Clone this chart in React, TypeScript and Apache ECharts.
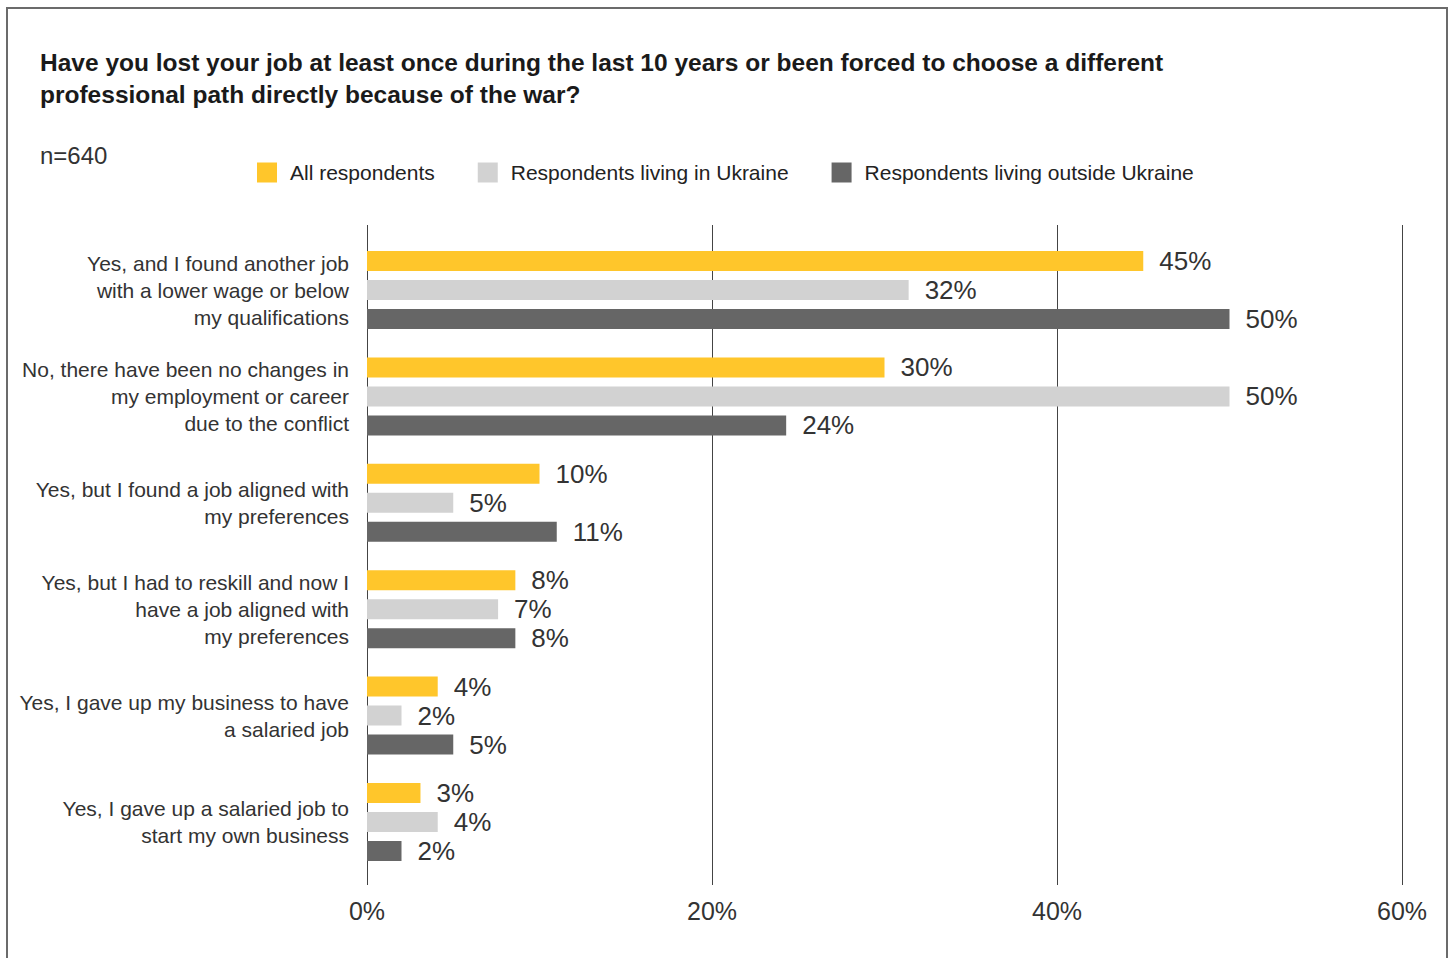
import React, { useEffect, useRef } from "react";
import * as echarts from "echarts";

const categories = [
  "Yes, and I found another job\nwith a lower wage or below\nmy qualifications",
  "No, there have been no changes in\nmy employment or career\ndue to the conflict",
  "Yes, but I found a job aligned with\nmy preferences",
  "Yes, but I had to reskill and now I\nhave a job aligned with\nmy preferences",
  "Yes, I gave up my business to have\na salaried job",
  "Yes, I gave up a salaried job to\nstart my own business",
];

const seriesNames = [
  "All respondents",
  "Respondents living in Ukraine",
  "Respondents living outside Ukraine",
];

const allValues = [45.0, 30.0, 10.0, 8.6, 4.1, 3.1];
const ukraineValues = [31.4, 50.0, 5.0, 7.6, 2.0, 4.1];
const outsideValues = [50.0, 24.3, 11.0, 8.6, 5.0, 2.0];

const allLabels = ["45%", "30%", "10%", "8%", "4%", "3%"];
const ukraineLabels = ["32%", "50%", "5%", "7%", "2%", "4%"];
const outsideLabels = ["50%", "24%", "11%", "8%", "5%", "2%"];

const xTicks = [0, 20, 40, 60];

const colors = ["#FFC62B", "#D2D2D2", "#666666"];

const FONT = "'Liberation Sans', Arial, Helvetica, sans-serif";

export default function App() {
  const ref = useRef<HTMLDivElement>(null);

  useEffect(() => {
    if (!ref.current) return;
    const chart = echarts.init(ref.current, undefined, { renderer: "svg" });

    const valueSets = [allValues, ukraineValues, outsideValues];
    const labelSets = [allLabels, ukraineLabels, outsideLabels];

    const option: any = {
      animation: false,
      backgroundColor: "#ffffff",
      textStyle: { fontFamily: FONT },
      title: {
        text:
          "Have you lost your job at least once during the last 10 years or been forced to choose a different\nprofessional path directly because of the war?",
        left: 40,
        top: 46,
        padding: 0,
        textStyle: {
          fontFamily: FONT,
          fontWeight: "bold",
          fontSize: 24.5,
          lineHeight: 32,
          color: "#1a1a1a",
        },
      },
      legend: {
        data: seriesNames,
        left: 257,
        top: 162,
        padding: 0,
        itemWidth: 20,
        itemHeight: 20,
        itemGap: 43,
        icon: "rect",
        textStyle: {
          fontFamily: FONT,
          fontSize: 21,
          color: "#222",
          padding: [0, 0, 0, 8],
        },
      },
      graphic: [
        {
          type: "rect",
          shape: { x: 7, y: 8, width: 1440, height: 1000 },
          style: { fill: "none", stroke: "#6b6b6b", lineWidth: 2 },
          silent: true,
        },
        {
          type: "text",
          x: 40,
          y: 155,
          style: {
            text: "n=640",
            fontFamily: FONT,
            fontSize: 24,
            fill: "#333",
            verticalAlign: "middle",
          },
        },
      ],
      grid: [
        { left: 367, right: 48, top: 236.8, height: 638.4 },
        { left: 367, right: 48, top: 225, height: 660 },
      ],
      xAxis: [
        {
          gridIndex: 0,
          type: "value",
          min: 0,
          max: 60,
          show: false,
        },
        {
          gridIndex: 1,
          type: "value",
          min: 0,
          max: 60,
          interval: 20,
          axisLine: { show: false },
          axisTick: { show: false },
          splitLine: { show: true, lineStyle: { color: "#444", width: 1 } },
          axisLabel: {
            margin: 13,
            fontFamily: FONT,
            fontSize: 25,
            color: "#333",
            formatter: (v: number) => (xTicks.includes(v) ? v + "%" : ""),
          },
        },
      ],
      yAxis: [
        {
          gridIndex: 0,
          type: "category",
          data: categories,
          inverse: true,
          axisLine: { show: false },
          axisTick: { show: false },
          axisLabel: {
            margin: 18,
            fontFamily: FONT,
            fontSize: 21,
            lineHeight: 27,
            color: "#333",
            align: "right",
            backgroundColor: "rgba(255,255,255,0)",
            padding: [0, 0, 6, 0],
          },
        },
        {
          gridIndex: 1,
          type: "value",
          min: 0,
          max: 1,
          show: false,
        },
      ],
      series: [
        ...seriesNames.map((name, i) => ({
          name,
          type: "bar",
          xAxisIndex: 0,
          yAxisIndex: 0,
          data: valueSets[i],
          barWidth: 20,
          barGap: "45%",
          itemStyle: { color: colors[i] },
          label: {
            show: true,
            position: "right",
            distance: 16,
            fontFamily: FONT,
            fontSize: 26,
            color: "#333",
            formatter: (p: any) => labelSets[i][p.dataIndex],
          },
        })),
        {
          type: "scatter",
          xAxisIndex: 1,
          yAxisIndex: 1,
          data: [],
          silent: true,
        },
      ],
    };

    chart.setOption(option);
    return () => chart.dispose();
  }, []);

  return (
    <div
      ref={ref}
      style={{ position: "absolute", left: 0, top: 0, width: 1450, height: 958 }}
    />
  );
}
